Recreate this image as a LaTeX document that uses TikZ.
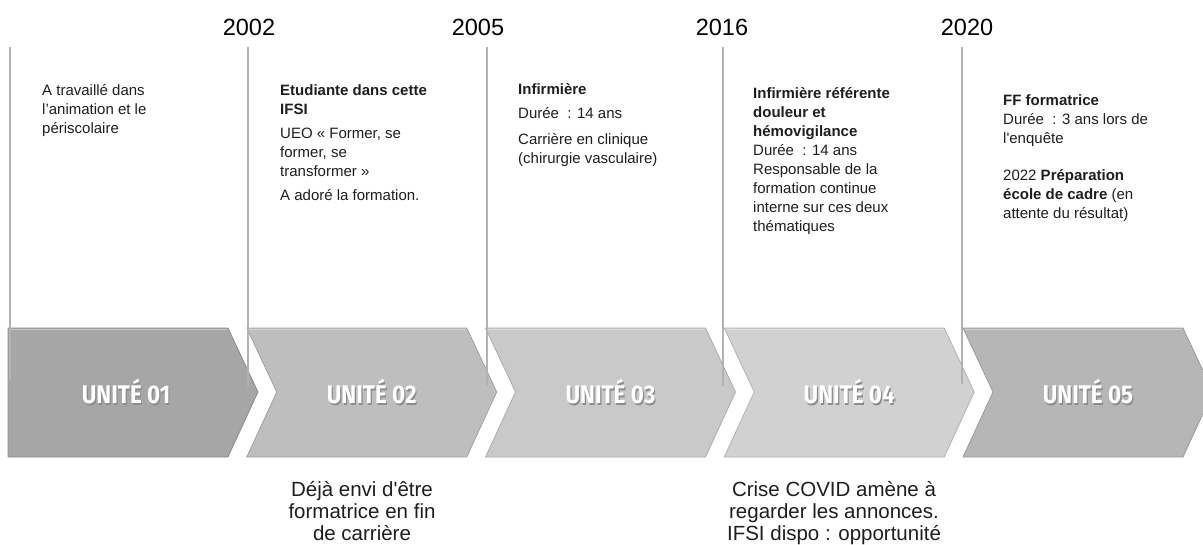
\documentclass[tikz,border=0pt]{standalone}
\usepackage{fontspec}
\setmainfont{Liberation Sans}
\newfontfamily\unitfont[FakeStretch=0.88]{Fira Sans}
\usetikzlibrary{positioning}
\definecolor{ChevA}{HTML}{A6A6A6}
\definecolor{ChevB}{HTML}{BEBEBE}
\definecolor{ChevC}{HTML}{C9C9C9}
\definecolor{ChevD}{HTML}{D1D1D1}
\definecolor{ChevE}{HTML}{B6B6B6}
\definecolor{TickGray}{HTML}{B2B2B2}
\definecolor{TextDark}{HTML}{1E1E1E}

\tikzset{
  year/.style={font=\fontsize{23.5}{28}\selectfont, anchor=base, inner sep=0pt},
  cell/.style={font=\fontsize{15}{19}\selectfont, text=TextDark, align=left, anchor=base west, inner sep=0pt},
  note/.style={font=\fontsize{20.5}{22}\selectfont, text=TextDark, align=center, anchor=base, inner sep=0pt},
  unit/.style={font=\unitfont\bfseries\fontsize{25.5}{25.5}\selectfont, text=white, inner sep=0pt},
  unitshadow/.style={unit, text=black!45},
  tick/.style={TickGray, line width=1.5pt},
}

\begin{document}
\begin{tikzpicture}[x=1pt, y=-1pt]
  \clip (0,0) rectangle (1203,544);

  % chevrons
  \foreach \i/\col in {0/ChevA, 1/ChevB, 2/ChevC, 3/ChevD, 4/ChevE} {
    \pgfmathsetmacro\xl{8+238.75*\i}
    \pgfmathsetmacro\notch{\i>0 ? 30 : 0}
    \pgfmathsetmacro\xc{\i>0 ? \xl+125 : \xl+118}
    \filldraw[fill=\col, draw=\col!85!black, line width=0.8pt]
      (\xl,328) -- (\xl+220,328) -- (\xl+250,392) -- (\xl+220,457)
      -- (\xl,457) -- (\xl+\notch,392) -- cycle;
    \draw[white!35!\col, line width=1.2pt] (\xl+2,329.5) -- (\xl+219,329.5);
    \node[unitshadow] (unitsh\i) at (\xc+1.2,393.5) {UNITÉ 0\the\numexpr\i+1\relax};
    \node[unit] (unit\i) at (\xc,392) {UNITÉ 0\the\numexpr\i+1\relax};
  }

  % years
  \node[year] (y2002) at (249,35) {2002};
  \node[year] (y2005) at (478,35) {2005};
  \node[year] (y2016) at (722,35) {2016};
  \node[year] (y2020) at (967,35) {2020};

  % timeline ticks
  \foreach \n/\x/\yb in {1/10/380, 2/248/386, 3/487/386, 4/723/386, 5/962/384} {
    \coordinate (top\n) at (\x,47);
    \coordinate (bot\n) at (\x,\yb);
    \draw[tick] (top\n) -- (bot\n);
  }

  % column texts (base = last line)
  \node[cell] (col1) at (42,133) {A travaillé dans\\ l’animation et le\\ périscolaire};
  \node[cell] (col2) at (280,200) {\textbf{Etudiante dans cette}\\ \textbf{IFSI}\\[5pt]
    UEO « Former, se\\ former, se\\ transformer »\\[5pt] A adoré la formation.};
  \node[cell] (col3) at (518,163) {\textbf{Infirmière}\\[5pt] Durée~ : 14 ans\\[7pt]
    Carrière en clinique\\ (chirurgie vasculaire)};
  \node[cell] (col4) at (753,231) {\textbf{Infirmière référente}\\ \textbf{douleur et}\\
    \textbf{hémovigilance}\\ Durée~ : 14 ans\\ Responsable de la\\ formation continue\\
    interne sur ces deux\\ thématiques};
  \node[cell] (col5) at (1003,218) {\textbf{FF formatrice}\\ Durée~ : 3 ans lors de\\
    l\textquotesingle enquête\\[18pt] 2022 \textbf{Préparation}\\ \textbf{école de cadre} (en\\
    attente du résultat)};

  % notes under the chevrons
  \node[note] (note2) at (362,540) {Déjà envi d\textquotesingle être\\ formatrice en fin\\ de carrière};
  \node[note] (note4) at (834,540) {Crise COVID amène à\\ regarder les annonces.\\ IFSI dispo : opportunité};
\end{tikzpicture}
\end{document}
